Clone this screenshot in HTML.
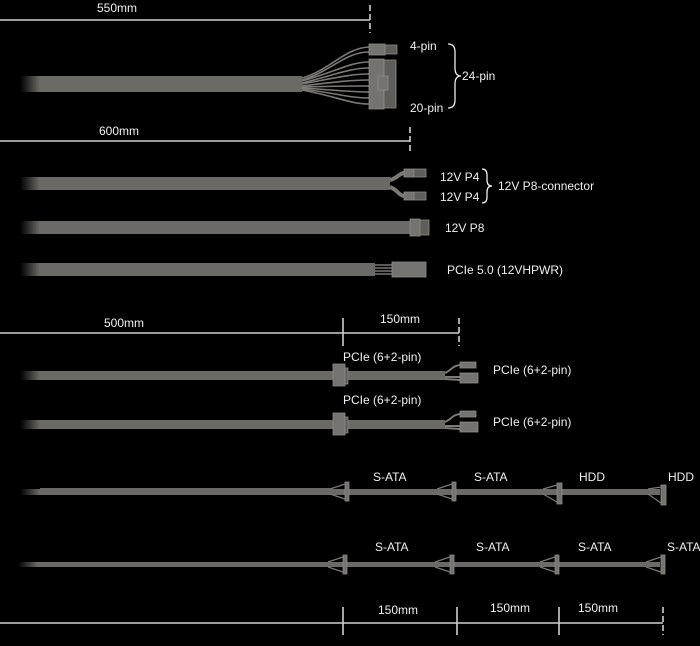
<!DOCTYPE html>
<html><head><meta charset="utf-8"><style>
html,body{margin:0;padding:0;background:#000;}
svg{display:block}
text{font-family:"Liberation Sans",sans-serif;font-size:12px;fill:#f0f0f0}
</style></head><body>
<svg width="700" height="646" viewBox="0 0 700 646" xmlns="http://www.w3.org/2000/svg">
<defs>
<linearGradient id="fade" x1="0" x2="1" y1="0" y2="0">
<stop offset="0" stop-color="#6b6a66" stop-opacity="0"/>
<stop offset="1" stop-color="#6b6a66" stop-opacity="1"/>
</linearGradient>
</defs>
<g fill="none" stroke="#cfcfcf" stroke-width="1.6">
<line x1="0" y1="20" x2="370" y2="20"/>
<line x1="370" y1="5" x2="370" y2="33" stroke-dasharray="6,3"/>
<line x1="0" y1="141" x2="410" y2="141"/>
<line x1="410" y1="127" x2="410" y2="154" stroke-dasharray="6,3"/>
<line x1="0" y1="333" x2="459" y2="333"/>
<line x1="343" y1="318" x2="343" y2="346"/>
<line x1="459" y1="318" x2="459" y2="346" stroke-dasharray="6,3"/>
<line x1="0" y1="623" x2="663" y2="623"/>
<line x1="343" y1="607" x2="343" y2="635"/>
<line x1="457" y1="607" x2="457" y2="635"/>
<line x1="559" y1="607" x2="559" y2="635"/>
<line x1="663" y1="607" x2="663" y2="635" stroke-dasharray="6,3"/>
<path d="M448 44 q7 0 7 8 v16 q0 8 6 8 q-6 0 -6 8 v16 q0 8 -7 8" stroke="#eee" stroke-width="1.3"/>
<path d="M482 169 q5 0 5 6 v5 q0 6 5 6 q-5 0 -5 6 v5 q0 6 -5 6" stroke="#eee" stroke-width="1.3"/>
</g>
<g fill="#6b6a66">
<rect x="20" y="76" width="20" height="16" fill="url(#fade)"/><rect x="40" y="76" width="262" height="16"/>
<rect x="20" y="177" width="20" height="13" fill="url(#fade)"/><rect x="40" y="177" width="350" height="13"/>
<rect x="20" y="221" width="20" height="13" fill="url(#fade)"/><rect x="40" y="221" width="370" height="13"/>
<rect x="20" y="263" width="20" height="13" fill="url(#fade)"/><rect x="40" y="263" width="335" height="13"/>
<rect x="20" y="371" width="20" height="9" fill="url(#fade)"/><rect x="40" y="371" width="405" height="9"/>
<rect x="20" y="420" width="20" height="9" fill="url(#fade)"/><rect x="40" y="420" width="405" height="9"/>
<rect x="20" y="489" width="20" height="6" fill="url(#fade)"/><rect x="40" y="488" width="292" height="7"/><rect x="330" y="489" width="330" height="6"/>
<rect x="18" y="562" width="20" height="5" fill="url(#fade)"/><rect x="38" y="562" width="622" height="5"/>
</g>
<g stroke="#7a7975" stroke-width="1.6" fill="none">
<path d="M302 78 C330 70 345 48 369 47"/><path d="M302 80 C330 72 345 52 369 52"/>
<path d="M302 81 C335 72 350 62 369 62"/><path d="M302 83 C335 75 350 68 369 68"/>
<path d="M302 84 C335 78 350 74 369 74"/><path d="M302 86 C335 82 350 80 369 80"/>
<path d="M302 87 C335 86 350 86 369 86"/><path d="M302 88 C335 90 350 92 369 92"/>
<path d="M302 89 C335 93 350 98 369 98"/><path d="M302 90 C335 96 350 104 369 104"/>
<path d="M390 180 C398 178 398 174 404 173" stroke-width="4"/>
<path d="M390 187 C398 190 398 195 404 196" stroke-width="4"/>
<path d="M375 265 L392 265 M375 268 L392 268 M375 271 L392 271 M375 274 L392 274"/>
<path d="M445 373 C452 370 452 366 460 365 M445 377 L460 377 M445 379 L460 380" stroke-width="2"/>
<path d="M445 422 C452 419 452 415 460 414 M445 426 L460 426 M445 428 L460 429" stroke-width="2"/>
</g>
<g fill="#747370" stroke="#8d8c88" stroke-width="0.8">
<rect x="369" y="44" width="16" height="11"/><rect x="385" y="45" width="12" height="9" fill="#5e5d5a"/>
<rect x="369" y="59" width="15" height="50"/><rect x="384" y="60" width="12" height="48" fill="#5e5d5a"/>
<rect x="378" y="76" width="10" height="14"/>
<rect x="404" y="169" width="10" height="8"/><rect x="414" y="169" width="12" height="8" fill="#5e5d5a"/>
<rect x="404" y="192" width="10" height="8"/><rect x="414" y="192" width="12" height="8" fill="#5e5d5a"/>
<rect x="410" y="219" width="10" height="17"/><rect x="420" y="220" width="9" height="15" fill="#5e5d5a"/>
<rect x="392" y="262" width="34" height="15"/>
<rect x="333" y="364" width="12" height="22"/><rect x="345" y="368" width="3" height="16" fill="#5e5d5a"/>
<rect x="333" y="413" width="12" height="22"/><rect x="345" y="417" width="3" height="16" fill="#5e5d5a"/>
<rect x="460" y="362" width="16" height="6"/><rect x="460" y="373" width="18" height="10"/>
<rect x="460" y="411" width="16" height="6"/><rect x="460" y="422" width="18" height="10"/>
<rect x="345" y="482" width="4" height="19"/><rect x="452" y="482" width="4" height="19"/>
<rect x="557" y="483" width="5" height="21"/><rect x="661" y="485" width="5" height="20"/>
<rect x="343" y="555" width="4" height="19"/><rect x="450" y="555" width="4" height="19"/>
<rect x="555" y="555" width="4" height="19"/><rect x="661" y="555" width="4" height="19"/>
</g>
<g stroke="#7a7975" stroke-width="1.2">
<path d="M330 489 L345 484 M330 494 L345 499 M437 489 L452 484 M437 494 L452 499 M543 489 L557 485 M543 494 L557 502 M648 489 L661 487 M648 494 L661 503"/>
<path d="M328 562 L343 557 M328 567 L343 572 M435 562 L450 557 M435 567 L450 572 M540 562 L555 557 M540 567 L555 572 M646 562 L661 557 M646 567 L661 572"/>
</g>
<text x="97" y="12">550mm</text>
<text x="99" y="135">600mm</text>
<text x="104" y="327">500mm</text>
<text x="380" y="323">150mm</text>
<text x="410" y="50">4-pin</text>
<text x="410" y="112">20-pin</text>
<text x="462" y="80">24-pin</text>
<text x="440" y="181">12V P4</text>
<text x="440" y="201">12V P4</text>
<text x="498" y="190">12V P8-connector</text>
<text x="445" y="232">12V P8</text>
<text x="447" y="274">PCIe 5.0 (12VHPWR)</text>
<text x="343" y="361">PCIe (6+2-pin)</text>
<text x="493" y="374">PCIe (6+2-pin)</text>
<text x="343" y="404">PCIe (6+2-pin)</text>
<text x="493" y="426">PCIe (6+2-pin)</text>
<text x="373" y="481">S-ATA</text>
<text x="474" y="481">S-ATA</text>
<text x="579" y="481">HDD</text>
<text x="668" y="481">HDD</text>
<text x="375" y="551">S-ATA</text>
<text x="476" y="551">S-ATA</text>
<text x="578" y="551">S-ATA</text>
<text x="667" y="551">S-ATA</text>
<text x="378" y="614">150mm</text>
<text x="490" y="612">150mm</text>
<text x="578" y="612">150mm</text>
</svg>
</body></html>
